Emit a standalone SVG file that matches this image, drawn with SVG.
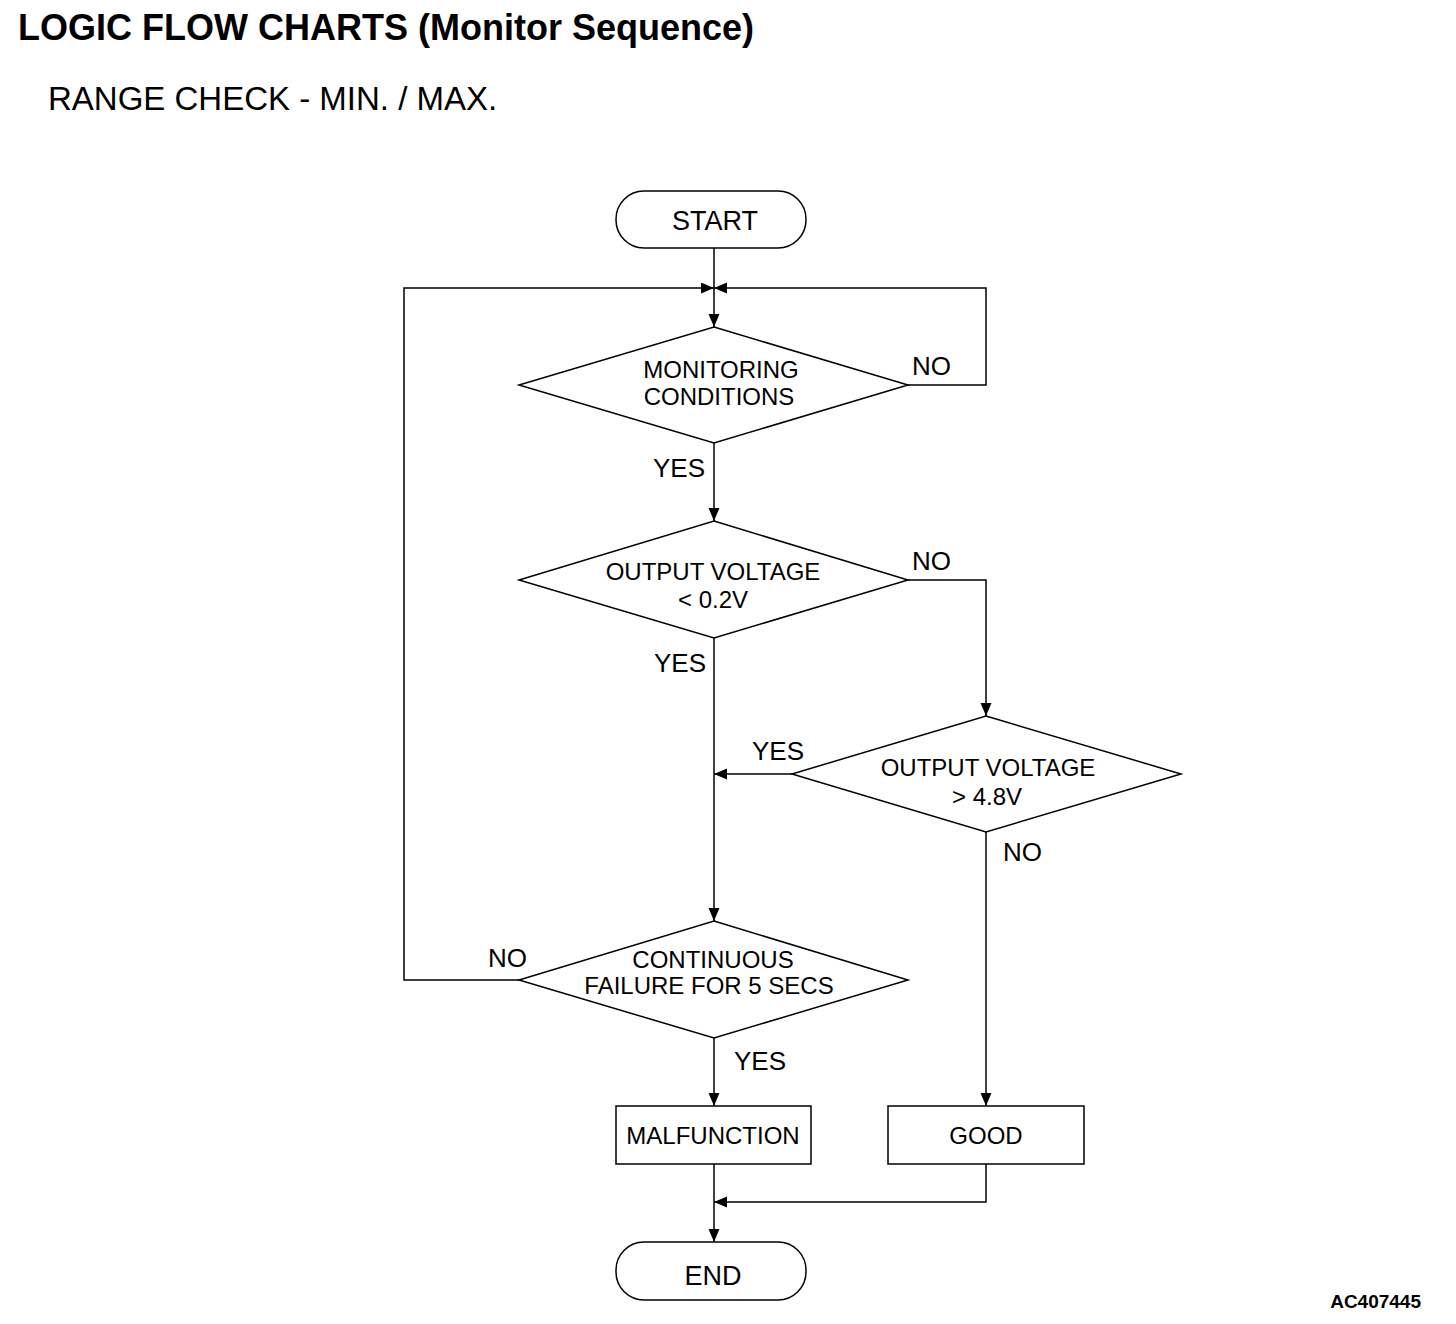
<svg xmlns="http://www.w3.org/2000/svg" width="1456" height="1324" viewBox="0 0 1456 1324">
<style>
.shape{fill:#fff;stroke:#000;stroke-width:1.5}
.ln{fill:none;stroke:#000;stroke-width:1.5}
text{font-family:"Liberation Sans",Arial,sans-serif;fill:#000}
.t{font-size:24px;text-anchor:middle}
.tt{font-size:27px;text-anchor:middle}
.lb{font-size:26px}
</style>
<defs>
<marker id="ah" markerUnits="userSpaceOnUse" markerWidth="14" markerHeight="12" refX="13" refY="5.5" orient="auto">
<path d="M0,0 L13,5.5 L0,11 z" fill="#000"/>
</marker>
</defs>
<rect width="1456" height="1324" fill="#fff"/>
<text x="18" y="40" font-size="36" font-weight="bold">LOGIC FLOW CHARTS (Monitor Sequence)</text>
<text x="48" y="110" font-size="33">RANGE CHECK - MIN. / MAX.</text>
<text x="1421" y="1308" font-size="19" font-weight="bold" text-anchor="end">AC407445</text>

<g id="connectors">
<path class="ln" d="M714,248 L714,327" marker-end="url(#ah)"/>
<path class="ln" d="M519,980 L404,980 L404,288 L714,288" marker-end="url(#ah)"/>
<path class="ln" d="M908,385 L986,385 L986,288 L714,288" marker-end="url(#ah)"/>
<path class="ln" d="M714,443 L714,521" marker-end="url(#ah)"/>
<path class="ln" d="M908,580 L986,580 L986,716" marker-end="url(#ah)"/>
<path class="ln" d="M714,638 L714,921" marker-end="url(#ah)"/>
<path class="ln" d="M792,774 L714,774" marker-end="url(#ah)"/>
<path class="ln" d="M986,832 L986,1106" marker-end="url(#ah)"/>
<path class="ln" d="M714,1038 L714,1106" marker-end="url(#ah)"/>
<path class="ln" d="M714,1164 L714,1242" marker-end="url(#ah)"/>
<path class="ln" d="M986,1164 L986,1202 L714,1202" marker-end="url(#ah)"/>
<text class="lb" x="912" y="375">NO</text>
<text class="lb" x="653" y="477">YES</text>
<text class="lb" x="912" y="570">NO</text>
<text class="lb" x="654" y="672">YES</text>
<text class="lb" x="752" y="760">YES</text>
<text class="lb" x="1003" y="861">NO</text>
<text class="lb" x="488" y="967">NO</text>
<text class="lb" x="734" y="1070">YES</text>
</g>

<g id="start">
<rect class="shape" x="616" y="191" width="190" height="57" rx="28"/>
<text class="tt" x="715" y="230">START</text>
</g>
<g id="monitoring">
<path class="shape" d="M714,327 L908,385 L714,443 L519,385 z"/>
<text class="t" x="721" y="378">MONITORING</text>
<text class="t" x="719" y="405">CONDITIONS</text>
</g>
<g id="lt02">
<path class="shape" d="M714,521 L908,580 L714,638 L519,580 z"/>
<text class="t" x="713" y="580">OUTPUT VOLTAGE</text>
<text class="t" x="713" y="608">&lt; 0.2V</text>
</g>
<g id="gt48">
<path class="shape" d="M986,716 L1181,774 L986,832 L792,774 z"/>
<text class="t" x="988" y="776">OUTPUT VOLTAGE</text>
<text class="t" x="987" y="805">&gt; 4.8V</text>
</g>
<g id="continuous">
<path class="shape" d="M714,921 L908,980 L714,1038 L519,980 z"/>
<text class="t" x="713" y="968">CONTINUOUS</text>
<text class="t" x="709" y="994">FAILURE FOR 5 SECS</text>
</g>
<g id="malfunction">
<rect class="shape" x="616" y="1106" width="195" height="58"/>
<text class="t" x="713" y="1144">MALFUNCTION</text>
</g>
<g id="good">
<rect class="shape" x="888" y="1106" width="196" height="58"/>
<text class="t" x="986" y="1144">GOOD</text>
</g>
<g id="end">
<rect class="shape" x="616" y="1242" width="190" height="58" rx="28"/>
<text class="tt" x="713" y="1285">END</text>
</g>
</svg>
